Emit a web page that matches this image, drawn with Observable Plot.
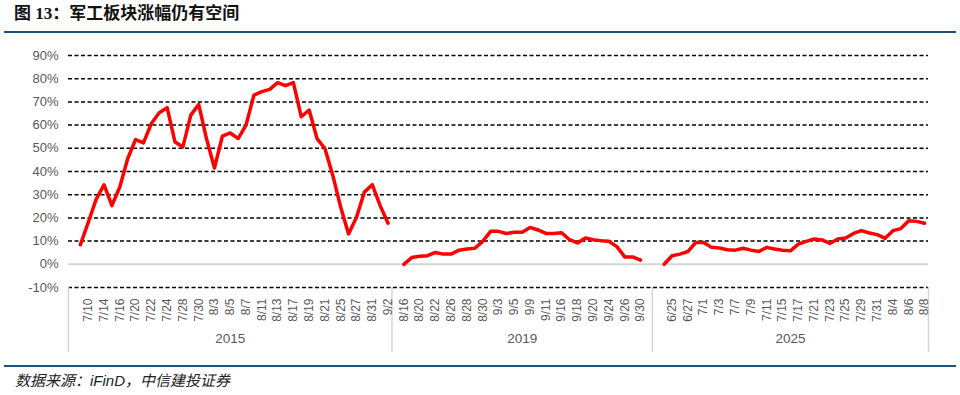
<!DOCTYPE html>
<html><head><meta charset="utf-8">
<script src="https://cdn.jsdelivr.net/npm/d3@7"></script>
<script src="https://cdn.jsdelivr.net/npm/@observablehq/plot@0.6"></script>
<style>
html,body{margin:0;padding:0;background:#fff;}
body{width:960px;height:395px;position:relative;overflow:hidden;font-family:"Liberation Sans",Arial,sans-serif;}
#title{position:absolute;left:14px;top:3px;font-family:"Liberation Serif","Noto Sans CJK SC",serif;font-weight:bold;font-size:17px;line-height:22px;color:#111;}
.hr{position:absolute;left:4px;width:952px;background:#1d5378;}
#chart{position:absolute;left:0;top:33px;}
#caption{position:absolute;left:15px;top:371px;font-family:"Liberation Sans","Noto Sans CJK SC",sans-serif;font-style:italic;font-size:15px;line-height:20px;color:#222;}
</style></head><body>
<div id="title">图 13：军工板块涨幅仍有空间</div>
<div class="hr" style="top:30.5px;height:2.5px"></div>
<div id="chart"></div>
<div class="hr" style="top:364.5px;height:2px"></div>
<div id="caption">数据来源：iFinD，中信建投证券</div>
<script>
const years = ["2015", "2019", "2025"];
const dates2015 = ["7/9","7/10","7/13","7/14","7/15","7/16","7/17","7/20","7/21","7/22","7/23","7/24","7/27","7/28","7/29","7/30","7/31","8/3","8/4","8/5","8/6","8/7","8/10","8/11","8/12","8/13","8/14","8/17","8/18","8/19","8/20","8/21","8/24","8/25","8/26","8/27","8/28","8/31","9/1","9/2"];
const values2015 = [8.4,18,28,34.3,25.3,33.3,45.5,53.8,52.3,60.7,65.3,67.5,52.7,50.6,64.3,68.9,54,41.5,55.2,56.6,54.2,60,72.9,74.4,75.4,78.3,77,78.3,63.6,66.5,54.2,49.9,38.3,24.6,13.1,20.3,31.1,34.3,25.3,17.7];
const dates2019 = ["8/16","8/19","8/20","8/21","8/22","8/23","8/26","8/27","8/28","8/29","8/30","9/2","9/3","9/4","9/5","9/6","9/9","9/10","9/11","9/12","9/16","9/17","9/18","9/19","9/20","9/23","9/24","9/25","9/26","9/27","9/30"];
const values2019 = [0,2.9,3.5,3.7,5.1,4.4,4.4,6.1,6.6,6.9,9.9,14.2,14.2,13.3,13.8,13.8,15.9,14.8,13.3,13.3,13.6,10.6,9.2,11.3,10.6,10.2,9.9,7.6,3.2,3.2,1.8];
const dates2025 = ["6/24","6/25","6/26","6/27","6/30","7/1","7/2","7/3","7/4","7/7","7/8","7/9","7/10","7/11","7/14","7/15","7/16","7/17","7/18","7/21","7/22","7/23","7/24","7/25","7/28","7/29","7/30","7/31","8/1","8/4","8/5","8/6","8/7","8/8"];
const values2025 = [0,3.7,4.4,5.5,9.4,9.4,7.3,7.0,6.3,6.1,6.9,6.1,5.5,7.3,6.6,6.1,5.8,8.7,9.9,10.9,10.5,9.0,10.9,11.3,13.3,14.5,13.5,12.8,11.2,14.5,15.4,18.8,18.5,17.7];
const yTicks = [-10,0,10,20,30,40,50,60,70,80,90];

// category-axis layout: empty slots before/after each group (as in the source chart)
const slotPad = {"2015": [1, 0], "2019": [1, 1], "2025": [1, 0]};
const groups = [
  {year: years[0], dates: dates2015, values: values2015},
  {year: years[1], dates: dates2019, values: values2019},
  {year: years[2], dates: dates2025, values: values2025}
];
let slot = 0;
const points = [], edges = [0], yearMarks = [];
for (const g of groups) {
  const start = slot;
  slot += slotPad[g.year][0];
  g.dates.forEach((d, i) => {
    points.push({year: g.year, slot: slot + 0.5, idx: slot, date: d, value: g.values[i]});
    slot++;
  });
  slot += slotPad[g.year][1];
  edges.push(slot);
  yearMarks.push({year: g.year, x: (start + slot) / 2});
}
const tickPts = points.filter(p => p.idx % 2 === 0);
const labelBySlot = new Map(tickPts.map(p => [p.slot, p.date]));
const yMin = yTicks[0];

const chart = Plot.plot({
  width: 960, height: 330,
  marginTop: 22, marginBottom: 76, marginLeft: 68, marginRight: 32,
  x: {domain: [0, slot], axis: null, label: null},
  y: {domain: [yMin, yTicks[yTicks.length - 1]], axis: null, label: null},
  style: {fontFamily: "'Liberation Sans', Arial, sans-serif", background: "transparent", overflow: "visible"},
  marks: [
    Plot.ruleY(yTicks.filter(v => v !== 0), {stroke: "#000", strokeWidth: 1.5, strokeDasharray: "4,2.5"}),
    Plot.ruleY([0], {stroke: "#d6d6d6", strokeWidth: 2}),
    Plot.ruleX(edges, {y1: yMin, y2: yMin - 28, stroke: "#d6d6d6", strokeWidth: 1.5}),
    Plot.axisY({ticks: yTicks, tickFormat: d => d + "%", tickSize: 0, tickPadding: 10, fontSize: 13, color: "#595959", fill: "#595959", label: null}),
    Plot.axisX({ticks: tickPts.map(p => p.slot), tickFormat: s => labelBySlot.get(s), tickSize: 0, tickPadding: 11, tickRotate: -90, fontSize: 12, color: "#595959", fill: "#595959", textAnchor: "end", lineAnchor: "middle", label: null}),
    Plot.text(yearMarks, {x: "x", frameAnchor: "bottom", dy: 55, text: "year", fontSize: 13.5, fill: "#595959"}),
    Plot.line(points, {x: "slot", y: "value", z: "year", stroke: "#ff0000", strokeWidth: 3.5, strokeLinejoin: "round"})
  ]
});
document.getElementById("chart").appendChild(chart);
</script>
</body></html>
